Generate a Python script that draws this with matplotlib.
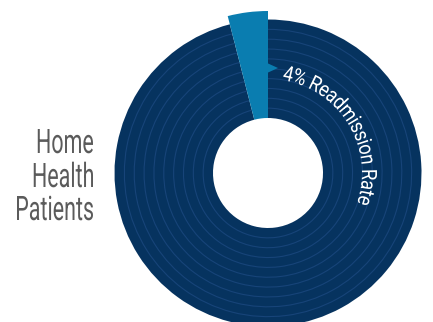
import numpy as np
import matplotlib
matplotlib.use("Agg")
import matplotlib.pyplot as plt
from matplotlib.patches import Wedge, Arc, Polygon, PathPatch
from matplotlib.textpath import TextPath
from matplotlib.font_manager import FontProperties
from matplotlib.path import Path

# data
shares = [96, 4]                 # not readmitted, readmitted (%)
slice_names = ["Not readmitted", "Readmitted"]
arc_label = "4% Readmission Rate"
side_label = ["Home", "Health", "Patients"]

navy = "#06335f"
ring_col = "#174479"
light = "#0a7db0"
grey = "#5b5b5b"

W, H = 433, 322
fig = plt.figure(figsize=(W / 100, H / 100), dpi=100)
ax = fig.add_axes([0, 0, 1, 1])
ax.set_xlim(0, W)
ax.set_ylim(0, H)
ax.axis("off")

cx, cy = 268, H - 173
r_out, r_in, r_pop = 153.5, 55, 162

# readmitted slice sits counter-clockwise from 12 o'clock
split = 90 + 360 * shares[1] / sum(shares)
ax.add_patch(Wedge((cx, cy), r_out, split, 450, width=r_out - r_in, color=navy, lw=0))
for r in np.linspace(r_in, r_out, 11)[1:-1]:
    ax.add_patch(Arc((cx, cy), 2 * r, 2 * r, theta1=split, theta2=450, color=ring_col, lw=0.8))
ax.add_patch(Wedge((cx, cy), r_pop, 90, split, width=r_pop - r_in, color=light, lw=0))

# little pointer from the slice towards the label
rp = 105
ax.add_patch(Polygon([(cx - 1, cy + rp + 5), (cx + 10, cy + rp), (cx - 1, cy + rp - 5)],
                     closed=True, color=light, lw=0))


def cap_unit(prop):
    tp = TextPath((0, 0), "H", size=1, prop=prop)
    return tp.get_extents().height


def arc_text(s, r_base, ang_start, arc_len, cap_h, prop, color):
    tp = TextPath((0, 0), s, size=1, prop=prop)
    k = cap_h / cap_unit(prop)
    ext = tp.get_extents()
    v = tp.vertices.copy()
    sx = arc_len / (ext.width * k)
    x = (v[:, 0] - ext.x0) * k * sx
    y = v[:, 1] * k
    th = np.radians(ang_start) - x / r_base
    rr = r_base + y
    nv = np.column_stack([cx + rr * np.cos(th), cy + rr * np.sin(th)])
    ax.add_patch(PathPatch(Path(nv, tp.codes), fc=color, lw=0))


def flat_text(s, x_right, y_base, cap_h, sx, prop, color):
    tp = TextPath((0, 0), s, size=1, prop=prop)
    k = cap_h / cap_unit(prop)
    ext = tp.get_extents()
    v = tp.vertices.copy()
    x = (v[:, 0] - ext.x1) * k * sx + x_right
    y = v[:, 1] * k + y_base
    ax.add_patch(PathPatch(Path(np.column_stack([x, y]), tp.codes), fc=color, lw=0))


reg = FontProperties(family="Roboto", weight="normal")

arc_text(arc_label, 94, 81, 163, 15, reg, "white")

# condense side label so that "Patients" is ~76 px wide
tp = TextPath((0, 0), side_label[-1], size=1, prop=reg)
k = 24 / cap_unit(reg)
sx = 76 / (tp.get_extents().width * k)
for line, yb in zip(side_label, [153, 187, 220]):
    flat_text(line, 93, H - yb, 24, sx, reg, grey)

fig.savefig("out.png", dpi=100)
